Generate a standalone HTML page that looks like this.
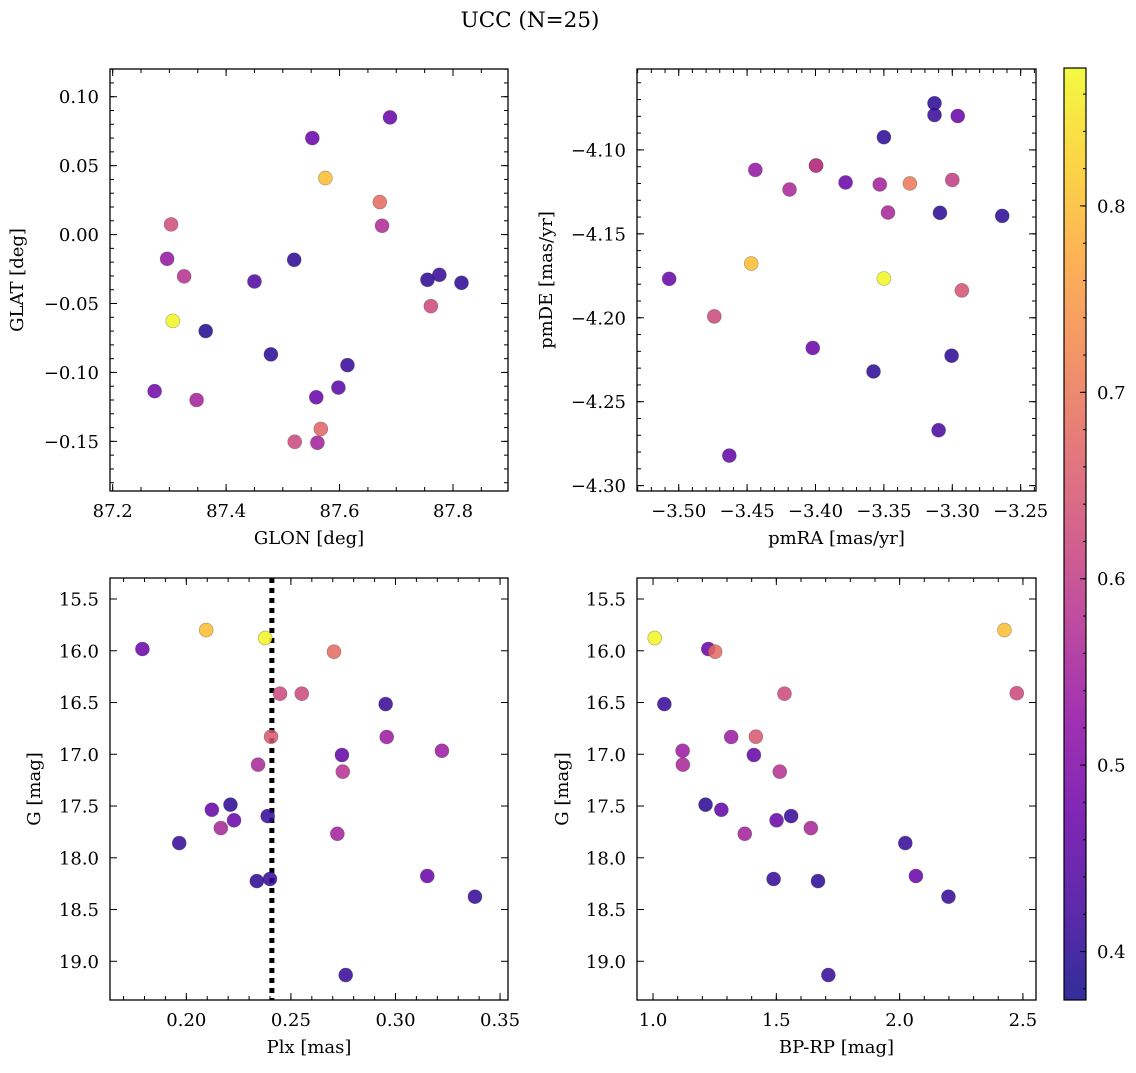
<!DOCTYPE html>
<html><head><meta charset="utf-8">
<style>
html,body{margin:0;padding:0;background:#fff;}
svg text{font-family:"DejaVu Serif","Liberation Serif",serif;fill:#000;}
</style></head>
<body>
<svg id="fig" width="1136" height="1068" viewBox="0 0 1136 1068" xmlns="http://www.w3.org/2000/svg">
<defs>
<linearGradient id="plasmaGrad" x1="0" y1="1" x2="0" y2="0"></linearGradient>
</defs>
<text x="530" y="27" font-size="21.5" text-anchor="middle">UCC (N=25)</text>
<g id="plots"></g>
</svg>
<script>
// ---- Colour scale ----
const cMin = 0.374, cMax = 0.874;
const cbTicks = [0.4, 0.5, 0.6, 0.7, 0.8];

// ---- Panel 1: GLON vs GLAT ----
const glonX = [87.689,87.552,87.575,87.671,87.675,87.303,87.296,87.326,87.520,87.450,87.755,87.776,87.815,87.761,87.306,87.364,87.479,87.614,87.598,87.274,87.348,87.559,87.567,87.521,87.561];
const glatY = [0.085,0.070,0.041,0.0236,0.0064,0.0074,-0.0176,-0.0303,-0.0183,-0.034,-0.0328,-0.0292,-0.035,-0.0519,-0.0626,-0.070,-0.0869,-0.0947,-0.111,-0.1136,-0.120,-0.118,-0.141,-0.1503,-0.151];
const glC = [0.47,0.47,0.80,0.68,0.57,0.63,0.53,0.58,0.40,0.44,0.40,0.41,0.40,0.62,0.87,0.39,0.40,0.41,0.45,0.48,0.55,0.47,0.67,0.62,0.55];
const p1XTicks = [87.2,87.4,87.6,87.8];
const p1YTicks = [0.10,0.05,0.00,-0.05,-0.10,-0.15];

// ---- Panel 2: pmRA vs pmDE ----
const pmraX = [-3.313,-3.313,-3.296,-3.350,-3.444,-3.3996,-3.3996,-3.419,-3.378,-3.353,-3.331,-3.300,-3.347,-3.309,-3.2635,-3.447,-3.507,-3.350,-3.293,-3.474,-3.402,-3.3005,-3.3576,-3.310,-3.463];
const pmdeY = [-4.0722,-4.0792,-4.0798,-4.0924,-4.1119,-4.1093,-4.1093,-4.1236,-4.1194,-4.1206,-4.120,-4.1179,-4.1373,-4.1375,-4.1393,-4.1677,-4.1768,-4.1766,-4.1837,-4.1992,-4.218,-4.2226,-4.232,-4.267,-4.2821];
const pmC = [0.40,0.41,0.47,0.40,0.53,0.50,0.61,0.56,0.47,0.55,0.70,0.60,0.56,0.40,0.40,0.80,0.47,0.87,0.64,0.62,0.47,0.40,0.40,0.43,0.46];
const p2XTicks = [-3.50,-3.45,-3.40,-3.35,-3.30,-3.25];
const p2YTicks = [-4.10,-4.15,-4.20,-4.25,-4.30];

// ---- Panel 3: Plx vs G ----
const plxX = [0.2095,0.2377,0.179,0.2706,0.2448,0.2552,0.2953,0.2405,0.2958,0.3222,0.2744,0.2343,0.2748,0.2211,0.2122,0.2389,0.2228,0.2165,0.2722,0.1966,0.3152,0.2337,0.2400,0.338,0.2762];
const plxG = [15.80,15.877,15.983,16.009,16.415,16.415,16.515,16.83,16.833,16.966,17.007,17.10,17.168,17.487,17.536,17.597,17.638,17.713,17.768,17.858,18.176,18.225,18.205,18.376,19.133];
const plxC = [0.80,0.87,0.47,0.68,0.62,0.62,0.41,0.65,0.54,0.54,0.46,0.56,0.58,0.40,0.46,0.41,0.47,0.56,0.55,0.41,0.47,0.40,0.41,0.41,0.41];
const plxMedian = [0.2409];
const p3XTicks = [0.20,0.25,0.30,0.35];
const magTicks = [15.5,16.0,16.5,17.0,17.5,18.0,18.5,19.0];

// ---- Panel 4: BP-RP vs G ----
const bprpX = [1.007,2.425,1.224,1.252,1.046,1.533,2.475,1.317,1.417,1.120,1.409,1.121,1.514,1.213,1.277,1.560,1.501,1.640,1.372,2.023,2.066,1.489,1.669,2.198,1.711];
const bprpG = [15.877,15.80,15.983,16.009,16.515,16.415,16.41,16.833,16.83,16.966,17.007,17.10,17.168,17.487,17.536,17.597,17.638,17.713,17.768,17.858,18.176,18.205,18.225,18.376,19.133];
const bprpC = [0.87,0.80,0.47,0.68,0.41,0.62,0.62,0.54,0.65,0.54,0.46,0.56,0.58,0.40,0.46,0.41,0.47,0.56,0.55,0.41,0.47,0.41,0.40,0.41,0.41];
const p4XTicks = [1.0,1.5,2.0,2.5];

const NS = "http://www.w3.org/2000/svg";
const root = document.getElementById('plots');
const TF = 18, AF = 18;
const plasma = [[0,"#0d0887"],[0.1,"#41049d"],[0.2,"#6a00a8"],[0.3,"#8f0da4"],[0.4,"#b12a90"],[0.5,"#cc4778"],[0.6,"#e16462"],[0.7,"#f2844b"],[0.8,"#fca636"],[0.9,"#fcce25"],[1,"#f0f921"]];
function hex2rgb(h){return [parseInt(h.substr(1,2),16),parseInt(h.substr(3,2),16),parseInt(h.substr(5,2),16)];}
function cmap(v){
  let t=(v-cMin)/(cMax-cMin); t=Math.max(0,Math.min(1,t));
  for(let i=0;i<plasma.length-1;i++){
    const a=plasma[i],b=plasma[i+1];
    if(t<=b[0]){const f=(t-a[0])/(b[0]-a[0]);const A=hex2rgb(a[1]),B=hex2rgb(b[1]);
      return `rgb(${Math.round(A[0]+(B[0]-A[0])*f)},${Math.round(A[1]+(B[1]-A[1])*f)},${Math.round(A[2]+(B[2]-A[2])*f)})`;}
  }
  return plasma[plasma.length-1][1];
}
function mk(tag,attrs,parent){const e=document.createElementNS(NS,tag);for(const k in attrs)e.setAttribute(k,attrs[k]);(parent||root).appendChild(e);return e;}
function fmt(v,d){const s=Math.abs(v).toFixed(d);return (v<-1e-9?"\u2212":"")+s;}

function panel(o){
  const g=mk('g',{});
  
  
  const sx=v=>o.x0+(v-o.xmin)/(o.xmax-o.xmin)*(o.x1-o.x0);
  const sy=v=>o.y0+(v-o.ymax)/(o.ymin-o.ymax)*(o.y1-o.y0);
  const tg=mk('g',{stroke:'#000','stroke-width':1},g);
  
  
  function ticksX(vals,len){vals.forEach(v=>{const x=sx(v);if(x<o.x0-0.5||x>o.x1+0.5)return;
    mk('line',{x1:x,x2:x,y1:o.y1,y2:o.y1-len},tg);mk('line',{x1:x,x2:x,y1:o.y0,y2:o.y0+len},tg);});}
  function ticksY(vals,len){vals.forEach(v=>{const y=sy(v);if(y<o.y0-0.5||y>o.y1+0.5)return;
    mk('line',{y1:y,y2:y,x1:o.x0,x2:o.x0+len},tg);mk('line',{y1:y,y2:y,x1:o.x1,x2:o.x1-len},tg);});}
  const minX=[],minY=[];
  for(let v=Math.ceil(o.xmin/o.xminor)*o.xminor;v<=o.xmax;v+=o.xminor)minX.push(v);
  for(let v=Math.ceil(o.ymin/o.yminor)*o.yminor;v<=o.ymax;v+=o.yminor)minY.push(v);
  ticksX(minX,4);ticksY(minY,4);ticksX(o.xt,7);ticksY(o.yt,7);
  o.xt.forEach(v=>{const t=mk('text',{x:sx(v),y:o.y1+26,'font-size':TF,'text-anchor':'middle'},g);t.textContent=fmt(v,o.xd);
    
    });
  o.yt.forEach(v=>{const t=mk('text',{x:o.x0-11,y:sy(v)+6.5,'font-size':TF,'text-anchor':'end'},g);t.textContent=fmt(v,o.yd);
    
    });
  const xl=mk('text',{x:(o.x0+o.x1)/2,y:o.y1+53,'font-size':AF,'text-anchor':'middle'},g);xl.textContent=o.xlabel;
  
  
  const yx=o.ylx, yy=(o.y0+o.y1)/2;
  const yl=mk('text',{x:yx,y:yy,'font-size':AF,'text-anchor':'middle',transform:`rotate(-90 ${yx} ${yy})`},g);yl.textContent=o.ylabel;
  
  
  if(o.vline){const x=sx(o.vline[0]);
    const l=mk('line',{x1:x,x2:x,y1:o.y0,y2:o.y1,stroke:'#000','stroke-width':5,'stroke-dasharray':'5 5'},g);
    
    }
  o.xs.forEach((xv,i)=>{
    const c=mk('circle',{cx:sx(xv),cy:sy(o.ys[i]),r:7,fill:cmap(o.cs[i]),'fill-opacity':0.85,stroke:'rgba(60,60,60,0.45)','stroke-width':0.6},g);
    
    
  });
  const fr=mk('rect',{x:o.x0,y:o.y0,width:o.x1-o.x0,height:o.y1-o.y0,fill:'none',stroke:'#000','stroke-width':1.3},g);
  
  
}

panel({name:'glon-glat-panel',x0:110,x1:508,y0:69,y1:491,xmin:87.1953,xmax:87.897,ymin:-0.186,ymax:0.1201,
  xt:p1XTicks,yt:p1YTicks,xminor:0.05,yminor:0.01,xd:1,yd:2,xlabel:'GLON [deg]',ylabel:'GLAT [deg]',ylx:23,xs:glonX,ys:glatY,cs:glC});
panel({name:'pm-panel',x0:637,x1:1036,y0:69,y1:491,xmin:-3.5305,xmax:-3.2388,ymin:-4.3032,ymax:-4.0518,
  xt:p2XTicks,yt:p2YTicks,xminor:0.01,yminor:0.01,xd:2,yd:2,xlabel:'pmRA [mas/yr]',ylabel:'pmDE [mas/yr]',ylx:552,xs:pmraX,ys:pmdeY,cs:pmC});
panel({name:'plx-g-panel',x0:110,x1:508,y0:578,y1:1000,xmin:0.1635,xmax:0.3538,ymin:19.374,ymax:15.297,
  xt:p3XTicks,yt:magTicks,xminor:0.01,yminor:0.1,xd:2,yd:1,xlabel:'Plx [mas]',ylabel:'G [mag]',ylx:40,xs:plxX,ys:plxG,cs:plxC,vline:plxMedian});
panel({name:'cmd-panel',x0:637,x1:1036,y0:578,y1:1000,xmin:0.935,xmax:2.553,ymin:19.374,ymax:15.297,
  xt:p4XTicks,yt:magTicks,xminor:0.1,yminor:0.1,xd:1,yd:1,xlabel:'BP-RP [mag]',ylabel:'G [mag]',ylx:568,xs:bprpX,ys:bprpG,cs:bprpC});

// ---- Colorbar ----
(function(){
  const cb={x0:1064,x1:1086,y0:68,y1:1000};
  const grad=document.getElementById('plasmaGrad');
  for(let i=0;i<=20;i++){const v=cMin+(cMax-cMin)*i/20;
    mk('stop',{offset:(i/20),'stop-color':cmap(v),'stop-opacity':0.85},grad);}
  const g=mk('g',{});
  
  
  const r=mk('rect',{x:cb.x0,y:cb.y0,width:cb.x1-cb.x0,height:cb.y1-cb.y0,fill:'url(#plasmaGrad)',stroke:'#000','stroke-width':1.2},g);
  
  
  const sy=v=>cb.y1-(v-cMin)/(cMax-cMin)*(cb.y1-cb.y0);
  for(let v=0.38;v<=cMax;v+=0.02){const y=sy(v);mk('line',{x1:cb.x1,x2:cb.x1-3,y1:y,y2:y,stroke:'#000'},g);}
  cbTicks.forEach(v=>{const y=sy(v);mk('line',{x1:cb.x1,x2:cb.x1-6,y1:y,y2:y,stroke:'#000'},g);
    const t=mk('text',{x:1097,y:y+6.5,'font-size':TF},g);t.textContent=v.toFixed(1);
    
    });
})();
</script>
</body></html>
